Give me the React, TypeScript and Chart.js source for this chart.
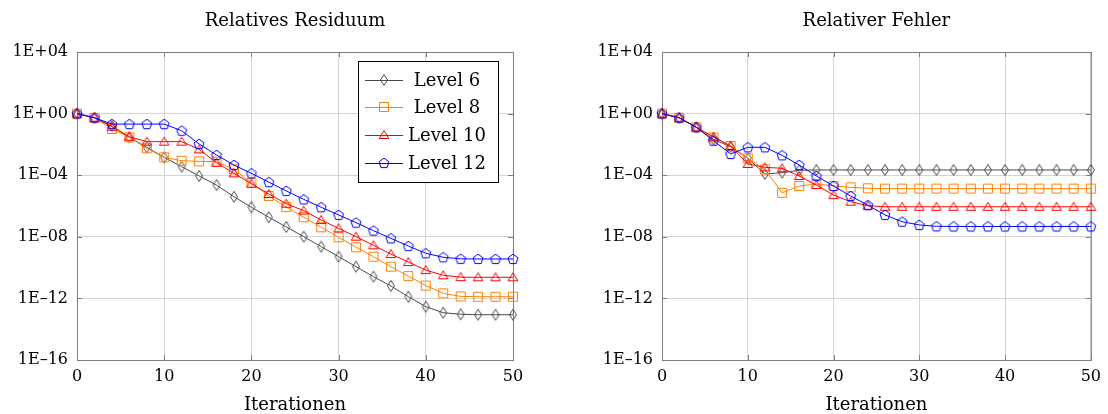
import React, { useEffect, useRef } from 'react';
import { Chart, registerables } from 'chart.js';

Chart.register(...registerables);

// Iteration numbers (x values)
const iterations = [0, 2, 4, 6, 8, 10, 12, 14, 16, 18, 20, 22, 24, 26, 28, 30, 32, 34, 36, 38, 40, 42, 44, 46, 48, 50];

// Values, stored as decimal exponents (log10 of the value)
const residualLevel6 = [0, -0.27, -0.8, -1.54, -2.19, -2.84, -3.45, -4.05, -4.64, -5.4, -6.08, -6.73, -7.36, -7.99, -8.64, -9.29, -9.94, -10.59, -11.19, -11.89, -12.54, -12.93, -13.03, -13.06, -13.06, -13.06];
const residualLevel8 = [0, -0.27, -1.0, -1.54, -2.25, -2.84, -3.06, -3.1, -3.12, -3.62, -4.51, -5.35, -6.07, -6.73, -7.38, -8.03, -8.68, -9.29, -9.94, -10.55, -11.17, -11.67, -11.87, -11.89, -11.89, -11.89];
const residualLevel10 = [0, -0.27, -0.85, -1.5, -1.82, -1.82, -1.82, -2.32, -3.19, -3.88, -4.55, -5.22, -5.85, -6.3, -6.91, -7.45, -7.99, -8.55, -9.12, -9.64, -10.16, -10.5, -10.62, -10.63, -10.63, -10.63];
const residualLevel12 = [0, -0.27, -0.68, -0.68, -0.68, -0.68, -1.11, -1.97, -2.69, -3.34, -3.88, -4.45, -5.02, -5.57, -6.08, -6.58, -7.08, -7.6, -8.1, -8.6, -9.07, -9.33, -9.43, -9.44, -9.44, -9.44];

const errorLevel6 = [0, -0.27, -0.89, -1.67, -2.15, -2.9, -3.92, -3.84, -3.68, -3.66, -3.66, -3.66, -3.66, -3.66, -3.66, -3.66, -3.66, -3.66, -3.66, -3.66, -3.66, -3.66, -3.66, -3.66, -3.66, -3.66];
const errorLevel8 = [0, -0.27, -0.89, -1.54, -2.1, -2.9, -3.62, -5.14, -4.7, -4.57, -4.7, -4.79, -4.85, -4.87, -4.87, -4.87, -4.87, -4.87, -4.87, -4.87, -4.87, -4.87, -4.87, -4.87, -4.87, -4.87];
const errorLevel10 = [0, -0.27, -0.89, -1.5, -2.1, -3.27, -3.49, -3.55, -4.05, -4.64, -5.29, -5.72, -5.98, -6.05, -6.05, -6.05, -6.05, -6.05, -6.05, -6.05, -6.05, -6.05, -6.05, -6.05, -6.05, -6.05];
const errorLevel12 = [0, -0.27, -0.89, -1.76, -2.62, -2.19, -2.19, -2.71, -3.34, -4.05, -4.7, -5.35, -5.95, -6.58, -7.02, -7.23, -7.32, -7.33, -7.33, -7.33, -7.33, -7.33, -7.33, -7.33, -7.33, -7.33];

const yTickExponents = [-16, -12, -8, -4, 0, 4];
const xTickValues = [0, 10, 20, 30, 40, 50];
const levelLabels = ['Level 6', 'Level 8', 'Level 10', 'Level 12'];
const levelColors = ['#4a4a4a', '#ff8000', '#ff0000', '#0000ff'];
const markerKinds = ['diamond', 'square', 'triangle', 'pentagon'];
const chartTitles = ['Relatives Residuum', 'Relativer Fehler'];
const xAxisTitle = 'Iterationen';

const FONT = "'DejaVu Serif', serif";

function makeMarker(kind: string, color: string): HTMLCanvasElement {
  const c = document.createElement('canvas');
  c.width = 14;
  c.height = 14;
  const ctx = c.getContext('2d')!;
  ctx.strokeStyle = color;
  ctx.lineWidth = 1;
  ctx.beginPath();
  if (kind === 'diamond') {
    ctx.moveTo(7, 1.5);
    ctx.lineTo(10.5, 7);
    ctx.lineTo(7, 12.5);
    ctx.lineTo(3.5, 7);
    ctx.closePath();
  } else if (kind === 'square') {
    ctx.rect(2.5, 2.5, 9, 9);
  } else if (kind === 'triangle') {
    ctx.moveTo(7, 2.5);
    ctx.lineTo(11.8, 10.5);
    ctx.lineTo(2.2, 10.5);
    ctx.closePath();
  } else {
    const r = 5.2;
    for (let k = 0; k < 5; k++) {
      const a = -Math.PI / 2 + (k * 2 * Math.PI) / 5;
      const x = 7 + r * Math.cos(a);
      const y = 7.4 + r * Math.sin(a);
      if (k === 0) ctx.moveTo(x, y);
      else ctx.lineTo(x, y);
    }
    ctx.closePath();
  }
  ctx.stroke();
  return c;
}

function expLabel(v: number): string {
  const e = Math.round(Math.log10(v));
  const abs = Math.abs(e).toString().padStart(2, '0');
  return '1E' + (e < 0 ? '\u2013' : '+') + abs;
}

function buildChart(
  canvas: HTMLCanvasElement,
  title: string,
  series: number[][],
  yWidth: number,
  padRight: number,
  showLegend: boolean
) {
  const markers = markerKinds.map((k, i) => makeMarker(k, levelColors[i]));

  const framePlugin = {
    id: 'frame',
    beforeDatasetsDraw(chart: any) {
      const { ctx, chartArea } = chart;
      const { left, right, top, bottom } = chartArea;
      ctx.save();
      ctx.strokeStyle = '#7f7f7f';
      ctx.lineWidth = 1;
      ctx.strokeRect(left + 0.5, top + 0.5, right - left, bottom - top);
      const xs = chart.scales.x;
      const ys = chart.scales.y;
      ctx.beginPath();
      xTickValues.forEach((v) => {
        const px = Math.round(xs.getPixelForValue(v)) + 0.5;
        ctx.moveTo(px, bottom);
        ctx.lineTo(px, bottom - 5);
        ctx.moveTo(px, top);
        ctx.lineTo(px, top + 5);
      });
      yTickExponents.forEach((e) => {
        const py = Math.round(ys.getPixelForValue(Math.pow(10, e))) + 0.5;
        ctx.moveTo(left, py);
        ctx.lineTo(left + 5, py);
        ctx.moveTo(right, py);
        ctx.lineTo(right - 5, py);
      });
      ctx.stroke();
      ctx.restore();
    },
  };

  const titlePlugin = {
    id: 'plotTitle',
    afterDraw(chart: any) {
      const { ctx, chartArea } = chart;
      ctx.save();
      ctx.fillStyle = '#000';
      ctx.font = `18px ${FONT}`;
      ctx.textAlign = 'center';
      ctx.textBaseline = 'middle';
      ctx.fillText(title, (chartArea.left + chartArea.right) / 2, 21);
      ctx.restore();
    },
  };

  const legendPlugin = {
    id: 'innerLegend',
    afterDatasetsDraw(chart: any) {
      if (!showLegend) return;
      const { ctx, chartArea } = chart;
      const boxRight = chartArea.right - 15;
      const boxLeft = boxRight - 140;
      const boxTop = chartArea.top + 9;
      const boxBottom = boxTop + 121;
      ctx.save();
      ctx.fillStyle = '#ffffff';
      ctx.fillRect(boxLeft, boxTop, boxRight - boxLeft, boxBottom - boxTop);
      ctx.strokeStyle = '#000000';
      ctx.lineWidth = 1;
      ctx.strokeRect(boxLeft + 0.5, boxTop + 0.5, boxRight - boxLeft, boxBottom - boxTop);
      const rowYs = [19, 46, 74, 102];
      levelLabels.forEach((label, i) => {
        const y = boxTop + rowYs[i];
        ctx.strokeStyle = levelColors[i];
        ctx.beginPath();
        ctx.moveTo(boxLeft + 7, y + 0.5);
        ctx.lineTo(boxLeft + 45, y + 0.5);
        ctx.stroke();
        const m = markers[i];
        ctx.drawImage(m, boxLeft + 26 - m.width / 2, y - m.height / 2);
        ctx.fillStyle = '#000';
        ctx.font = `18px ${FONT}`;
        ctx.textAlign = 'center';
        ctx.textBaseline = 'middle';
        ctx.fillText(label, boxLeft + 89, y + 1);
      });
      ctx.restore();
    },
  };

  return new Chart(canvas, {
    type: 'line',
    data: {
      datasets: series.map((vals, i) => ({
        label: levelLabels[i],
        data: iterations.map((it, j) => ({ x: it, y: Math.pow(10, vals[j]) })),
        borderColor: levelColors[i],
        backgroundColor: 'transparent',
        borderWidth: 1,
        pointStyle: markers[i] as any,
        pointRadius: 5,
        tension: 0,
        clip: false as any,
        order: 3 - i,
      })),
    },
    options: {
      responsive: false,
      animation: false,
      events: [],
      layout: { padding: { top: 52, right: padRight, left: 0, bottom: 0 } },
      plugins: {
        legend: { display: false },
        tooltip: { enabled: false },
        title: { display: false },
      },
      scales: {
        x: {
          type: 'linear',
          min: 0,
          max: 50,
          afterFit: (scale: any) => {
            scale.height = 54;
          },
          afterBuildTicks: (scale: any) => {
            scale.ticks = xTickValues.map((v) => ({ value: v }));
          },
          ticks: {
            color: '#000',
            font: { family: FONT, size: 16 },
            padding: 7,
            maxRotation: 0,
            callback: (v: any) => String(v),
          },
          grid: { color: '#d4d4d4', drawTicks: false, lineWidth: 1 },
          border: { display: false },
          title: {
            display: true,
            text: xAxisTitle,
            color: '#000',
            font: { family: FONT, size: 18, lineHeight: 1.0 },
            padding: { top: 0, bottom: 0 },
          },
        },
        y: {
          type: 'logarithmic',
          min: 1e-16,
          max: 1e4,
          afterFit: (scale: any) => {
            scale.width = yWidth;
          },
          afterBuildTicks: (scale: any) => {
            scale.ticks = yTickExponents.map((e) => ({ value: Math.pow(10, e) }));
          },
          ticks: {
            color: '#000',
            font: { family: FONT, size: 16 },
            padding: 9,
            autoSkip: false,
            callback: (v: any) => expLabel(Number(v)),
          },
          grid: { color: '#d4d4d4', drawTicks: false, lineWidth: 1 },
          border: { display: false },
        },
      },
    },
    plugins: [framePlugin, titlePlugin, legendPlugin],
  } as any);
}

export default function App() {
  const leftRef = useRef<HTMLCanvasElement>(null);
  const rightRef = useRef<HTMLCanvasElement>(null);

  useEffect(() => {
    const left = buildChart(
      leftRef.current!,
      chartTitles[0],
      [residualLevel6, residualLevel8, residualLevel10, residualLevel12],
      77,
      41,
      true
    );
    const right = buildChart(
      rightRef.current!,
      chartTitles[1],
      [errorLevel6, errorLevel8, errorLevel10, errorLevel12],
      108,
      11,
      false
    );
    return () => {
      left.destroy();
      right.destroy();
    };
  }, []);

  return (
    <div style={{ position: 'absolute', left: 0, top: 0, width: 1108, height: 414, background: '#fff' }}>
      <canvas ref={leftRef} width={554} height={414} style={{ position: 'absolute', left: 0, top: 0, width: 554, height: 414 }} />
      <canvas ref={rightRef} width={554} height={414} style={{ position: 'absolute', left: 554, top: 0, width: 554, height: 414 }} />
    </div>
  );
}
